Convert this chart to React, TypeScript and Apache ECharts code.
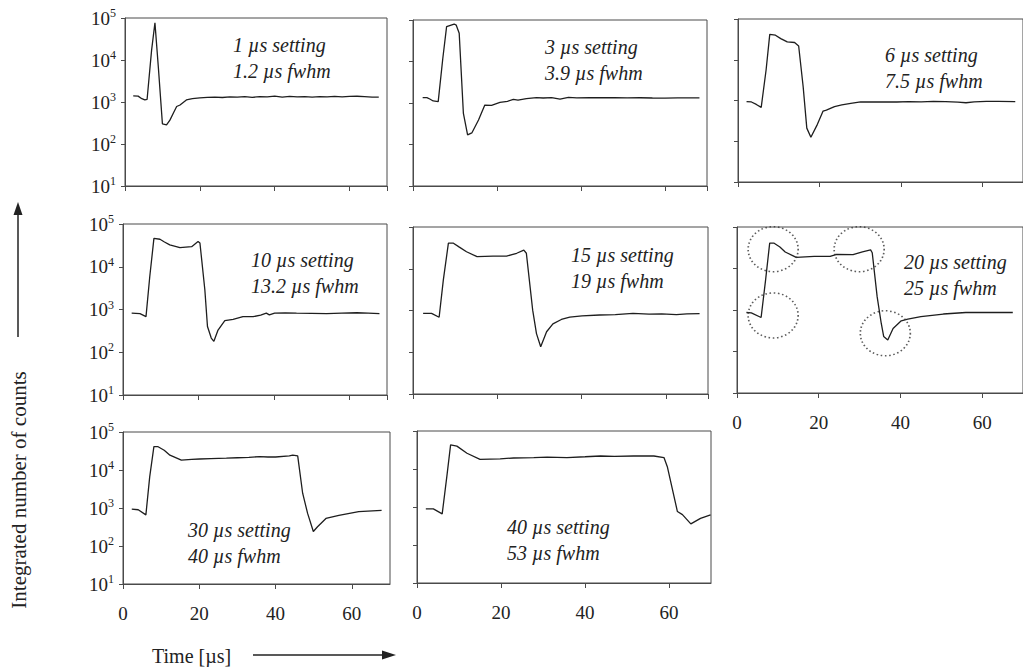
import React, { useEffect, useRef } from "react";
import * as echarts from "echarts";

// Integrated counts versus time for eight shaping-time settings (log scale)
const t1 = [2.2, 3.5, 4.5, 5.3, 5.9, 7.1, 8.0, 8.9, 10.0, 11.1, 12.0, 13.0, 13.8, 14.7, 16.4, 18, 20, 22, 24, 26, 28, 30, 32, 34, 36, 38, 40, 42, 44, 46, 48, 50, 52, 54, 56, 58, 60, 62, 64, 66, 67.8];
const c1 = [1400, 1380, 1200, 1120, 1150, 17000, 77000, 6900, 300, 285, 370, 560, 780, 850, 1120, 1200, 1260, 1290, 1310, 1280, 1330, 1300, 1350, 1290, 1340, 1320, 1380, 1300, 1360, 1330, 1340, 1310, 1350, 1320, 1360, 1330, 1360, 1370, 1350, 1300, 1300];

const t2 = [2.3, 3.3, 4.0, 4.8, 6.0, 7.1, 8.0, 9.8, 10.3, 11.0, 12.0, 13.0, 14.0, 15.6, 17.1, 18.7, 20.7, 22.5, 23.9, 25, 27, 29.4, 31, 33, 35, 37, 39, 42, 45, 48, 51, 54, 57, 60, 63, 66, 68.2];
const c2 = [1340, 1350, 1250, 1120, 1080, 12000, 69000, 80000, 75000, 48000, 560, 170, 190, 390, 890, 880, 1030, 1100, 1230, 1180, 1280, 1340, 1320, 1350, 1240, 1360, 1330, 1350, 1340, 1340, 1330, 1340, 1320, 1310, 1330, 1330, 1330];

const t3 = [2.1, 3.3, 4.5, 5.7, 6.9, 7.8, 9.2, 10.5, 12.1, 13.9, 14.9, 16.0, 16.9, 17.9, 19.5, 20.9, 21.7, 23.7, 25.5, 27.7, 30.1, 33, 36, 39, 42, 45, 48, 51, 54, 56, 58, 61, 64, 68.1];
const c3 = [940, 920, 800, 680, 5600, 42000, 40000, 33000, 27500, 26500, 21700, 2200, 210, 125, 260, 550, 580, 710, 780, 850, 920, 920, 930, 920, 940, 930, 950, 940, 910, 880, 930, 950, 950, 940];

const t4 = [2.3, 4.5, 6.1, 7.1, 8.2, 9.8, 11, 12.4, 15.1, 18.2, 19.9, 20.4, 21.7, 22.4, 23.4, 24.1, 25.2, 27.0, 29.2, 31.8, 34.5, 36.5, 38.0, 38.8, 40.2, 43, 46, 50, 54, 58, 62, 65, 68];
const c4 = [820, 800, 680, 5900, 46000, 44000, 38000, 32500, 28000, 29500, 39000, 36000, 2900, 400, 215, 180, 330, 550, 590, 680, 680, 740, 820, 750, 820, 830, 820, 810, 800, 820, 840, 820, 800];

const t5 = [2.4, 4.4, 6.2, 7.2, 8.4, 9.6, 11, 12.7, 15.2, 19.0, 22.2, 24.6, 26.3, 26.9, 28.4, 29.3, 30.3, 31.7, 33.2, 35.2, 37.2, 40.1, 44.3, 48, 52.2, 56, 59, 62.5, 65, 68];
const c5 = [850, 850, 690, 5400, 41000, 41000, 33000, 25500, 19500, 20000, 20000, 23500, 28000, 23500, 1020, 280, 135, 310, 480, 610, 690, 740, 780, 800, 850, 820, 830, 800, 830, 840];

const t6 = [2.3, 3.5, 5.9, 7.0, 8.0, 9.0, 10.5, 11.8, 14.5, 18.9, 22.8, 24.4, 28.4, 30.7, 32.7, 33.1, 34.3, 35.3, 35.9, 36.9, 38.2, 40.2, 41.8, 45.0, 50.5, 56.0, 62, 67.5];
const c6 = [870, 850, 660, 5300, 41000, 41000, 33000, 25000, 18600, 19500, 19500, 22000, 21500, 25000, 28000, 24000, 2100, 480, 230, 190, 360, 550, 600, 690, 800, 870, 870, 870];

const t7 = [2.3, 4.0, 6.0, 7.0, 8.1, 9.2, 10.8, 12.3, 15.3, 18, 20.1, 23, 27.1, 30, 33, 35.8, 38, 40, 43.6, 44.5, 45.8, 47.1, 48.4, 49.9, 51.0, 53.2, 56.6, 61.8, 67.8];
const c7 = [930, 900, 660, 6600, 41000, 41000, 33000, 24500, 18300, 19000, 19500, 20000, 20500, 21000, 21500, 22500, 22000, 22000, 23500, 24500, 23500, 2450, 720, 240, 320, 530, 640, 800, 870];

const t8 = [2.1, 3.9, 6.0, 7.1, 8.0, 9.5, 11.9, 15.0, 19.8, 23, 27.8, 31, 35.7, 40, 43.7, 47, 51.6, 56.4, 58.8, 59.6, 62.0, 63.2, 65.2, 67.5, 69.9];
const c8 = [890, 890, 660, 6300, 43000, 40000, 26000, 18000, 18500, 19500, 20000, 20500, 20000, 21000, 22000, 21500, 22000, 22000, 20000, 11500, 760, 630, 360, 500, 620];

const times = [t1, t2, t3, t4, t5, t6, t7, t8];
const counts = [c1, c2, c3, c4, c5, c6, c7, c8];

const settingLabels = ["1 µs setting", "3 µs setting", "6 µs setting", "10 µs setting", "15 µs setting", "20 µs setting", "30 µs setting", "40 µs setting"];
const fwhmLabels = ["1.2 µs fwhm", "3.9 µs fwhm", "7.5 µs fwhm", "13.2 µs fwhm", "19 µs fwhm", "25 µs fwhm", "40 µs fwhm", "53 µs fwhm"];

// Highlighted regions of the 20 µs trace: [time, counts]
const circledPoints = [
  [8.85, 29200],
  [8.85, 740],
  [29.9, 29200],
  [36.3, 275],
];

const xTicks = [0, 20, 40, 60];
const yExponents = [1, 2, 3, 4, 5];

const FONT = '"Liberation Serif", "Times New Roman", serif';
const INK = "#1e1e1e";
const AXIS = "#4a4a4a";

// Panel frames in pixels
const frames = [
  { left: 125, top: 18, width: 262, height: 168 },
  { left: 413, top: 20, width: 294, height: 166 },
  { left: 738, top: 19, width: 292, height: 163 },
  { left: 123, top: 224, width: 264, height: 171 },
  { left: 413, top: 227, width: 295, height: 167 },
  { left: 737, top: 227, width: 295, height: 166 },
  { left: 123, top: 432, width: 267, height: 152 },
  { left: 417, top: 431, width: 294, height: 152 },
];
const showYLabels = [true, false, false, true, false, false, true, false];
const showXLabels = [false, false, false, false, false, true, true, true];
const notePos = [
  [233, 45], [545, 47], [885, 55],
  [251, 260], [571, 255], [904, 262],
  [188, 530], [507, 527],
];

export default function App() {
  const ref = useRef<HTMLDivElement>(null);

  useEffect(() => {
    if (!ref.current) return;
    const chart = echarts.init(ref.current, null, { renderer: "svg" });

    const grid = frames.map((f) => ({
      ...f,
      show: true,
      borderColor: AXIS,
      borderWidth: 1,
      backgroundColor: "transparent",
    }));

    const xAxis = frames.map((_, i) => ({
      type: "value",
      gridIndex: i,
      min: xTicks[0],
      max: 70,
      interval: xTicks[1] - xTicks[0],
      splitLine: { show: false },
      axisLine: { lineStyle: { color: AXIS, width: 1 } },
      axisTick: { show: true, length: 5, lineStyle: { color: AXIS } },
      axisLabel: {
        show: showXLabels[i],
        showMaxLabel: false,
        margin: 20,
        fontFamily: FONT,
        fontSize: 19,
        color: "#222",
        formatter: (v: number) => (xTicks.includes(v) ? String(v) : ""),
      },
    }));

    const yAxis = frames.map((_, i) => ({
      type: "log",
      logBase: 10,
      gridIndex: i,
      min: Math.pow(10, yExponents[0]),
      max: Math.pow(10, yExponents[yExponents.length - 1]),
      splitLine: { show: false },
      axisLine: { show: true, lineStyle: { color: AXIS, width: 1 } },
      axisTick: { show: true, length: 4, lineStyle: { color: AXIS } },
      axisLabel: {
        show: showYLabels[i],
        margin: 9,
        formatter: (v: number) => `{b|10}{s|${Math.round(Math.log10(v))}}`,
        rich: {
          b: { fontFamily: FONT, fontSize: 19, color: "#222", lineHeight: 22 },
          s: { fontFamily: FONT, fontSize: 12, color: "#222", verticalAlign: "top", lineHeight: 12 },
        },
      },
    }));

    const series: any[] = times.map((t, i) => ({
      type: "line",
      xAxisIndex: i,
      yAxisIndex: i,
      symbol: "none",
      smooth: false,
      lineStyle: { color: INK, width: 1.3 },
      data: t.map((x, k) => [x, counts[i][k]]),
      silent: true,
    }));

    series.push({
      type: "scatter",
      xAxisIndex: 5,
      yAxisIndex: 5,
      symbol: "circle",
      symbolSize: [50, 45],
      itemStyle: {
        color: "rgba(0,0,0,0)",
        borderColor: "#333",
        borderWidth: 1.6,
        borderType: [1.5, 2.5],
      },
      data: circledPoints,
      silent: true,
      z: 3,
    });

    const noteStyle = {
      fontFamily: FONT,
      fontStyle: "italic",
      fontSize: 20,
      fill: "#222",
      textAlign: "left",
      textVerticalAlign: "middle",
    };

    const notes: any[] = [];
    notePos.forEach(([x, y], i) => {
      notes.push({ type: "text", x, y, style: { ...noteStyle, text: settingLabels[i] } });
      notes.push({ type: "text", x, y: y + 26, style: { ...noteStyle, text: fwhmLabels[i] } });
    });

    const graphic = [
      ...notes,
      // vertical axis title with arrow
      {
        type: "text",
        x: 19,
        y: 490,
        rotation: Math.PI / 2,
        style: {
          text: "Integrated number of counts",
          fontFamily: FONT,
          fontSize: 21,
          fill: "#222",
          textAlign: "center",
          textVerticalAlign: "middle",
        },
      },
      { type: "line", shape: { x1: 18, y1: 337, x2: 18, y2: 212 }, style: { stroke: "#222", lineWidth: 1.5 } },
      { type: "polygon", shape: { points: [[18, 202], [13.5, 215], [22.5, 215]] }, style: { fill: "#222" } },
      // horizontal axis title with arrow
      {
        type: "text",
        x: 152,
        y: 656,
        style: {
          text: "Time [µs]",
          fontFamily: FONT,
          fontSize: 20,
          fill: "#222",
          textAlign: "left",
          textVerticalAlign: "middle",
        },
      },
      { type: "line", shape: { x1: 253, y1: 655, x2: 384, y2: 655 }, style: { stroke: "#222", lineWidth: 1.5 } },
      { type: "polygon", shape: { points: [[396, 655], [382, 650.5], [382, 659.5]] }, style: { fill: "#222" } },
    ];

    chart.setOption({
      animation: false,
      backgroundColor: "#ffffff",
      grid,
      xAxis,
      yAxis,
      series,
      graphic,
    });

    return () => chart.dispose();
  }, []);

  return (
    <div
      ref={ref}
      style={{ position: "fixed", left: 0, top: 0, width: 1023, height: 667, background: "#fff" }}
    />
  );
}
